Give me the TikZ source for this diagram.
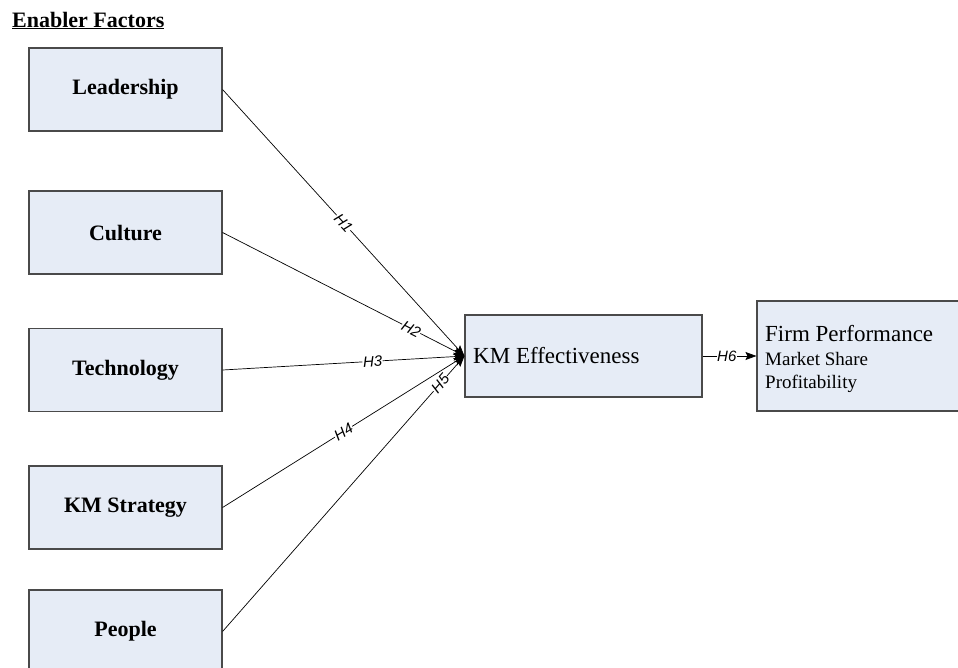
\documentclass[tikz,border=0pt]{standalone}
\usepackage{fontspec}
\setmainfont{Liberation Serif}
\newfontfamily\labfont{Liberation Sans}
\usetikzlibrary{arrows.meta}
\definecolor{boxfill}{HTML}{E6ECF6}
\definecolor{boxline}{HTML}{4A4A4A}
\tikzset{
  enabler/.style={draw=boxline, line width=1.1pt, fill=boxfill, minimum width=193pt, minimum height=83pt, inner sep=0pt, font=\fontsize{22}{26}\selectfont\bfseries},
  outbox/.style={draw=boxline, line width=1.1pt, fill=boxfill, inner sep=0pt},
  conn/.style={draw=black, line width=0.7pt, -{Stealth[length=11pt,width=8pt,inset=2pt]}},
  hlab/.style={sloped, fill=white, inner sep=0.5pt, font=\labfont\itshape\fontsize{15}{15}\selectfont},
  small/.style={anchor=base west, inner sep=0pt, font=\fontsize{19}{23}\selectfont}
}
\begin{document}
\begin{tikzpicture}[x=1pt,y=-1pt]
\useasboundingbox (0,0) rectangle (958,667);
\node[anchor=base west, inner sep=0pt, font=\fontsize{22}{26}\selectfont\bfseries] (title) at (12,27) {\underline{Enabler Factors}};
\node[enabler] (lead) at (125.5,89.5) {Leadership};
\node[enabler] (cult) at (125.5,232.5) {Culture};
\node[enabler] (tech) at (125.5,370) {Technology};
\node[enabler] (kms) at (125.5,507.5) {KM Strategy};
\node[enabler] (peop) at (125.5,631.5) {People};
\node[outbox, minimum width=237pt, minimum height=82pt] (kme) at (583.5,356) {};
\node[anchor=west, inner sep=0pt, font=\fontsize{23}{27}\selectfont] (kmet) at (473,356) {KM Effectiveness};
\node[outbox, minimum width=202pt, minimum height=110pt] (firm) at (858,356) {};
\node[small, font=\fontsize{23}{27}\selectfont] (firm1) at (765,341) {Firm Performance};
\node[small] (firm2) at (765,365) {Market Share};
\node[small] (firm3) at (765,388) {Profitability};
\draw[conn] (lead.east) -- node[hlab, pos=0.5] {H1} (kme.west);
\draw[conn] (cult.east) -- node[hlab, pos=0.78] {H2} (kme.west);
\draw[conn] (tech.east) -- node[hlab, pos=0.62] {H3} (kme.west);
\draw[conn] (kms.east) -- node[hlab, pos=0.5] {H4} (kme.west);
\draw[conn] (peop.east) -- node[hlab, pos=0.9] {H5} (kme.west);
\draw[conn] (kme.east) -- node[hlab, pos=0.45] {H6} (firm.west);
\end{tikzpicture}
\end{document}
